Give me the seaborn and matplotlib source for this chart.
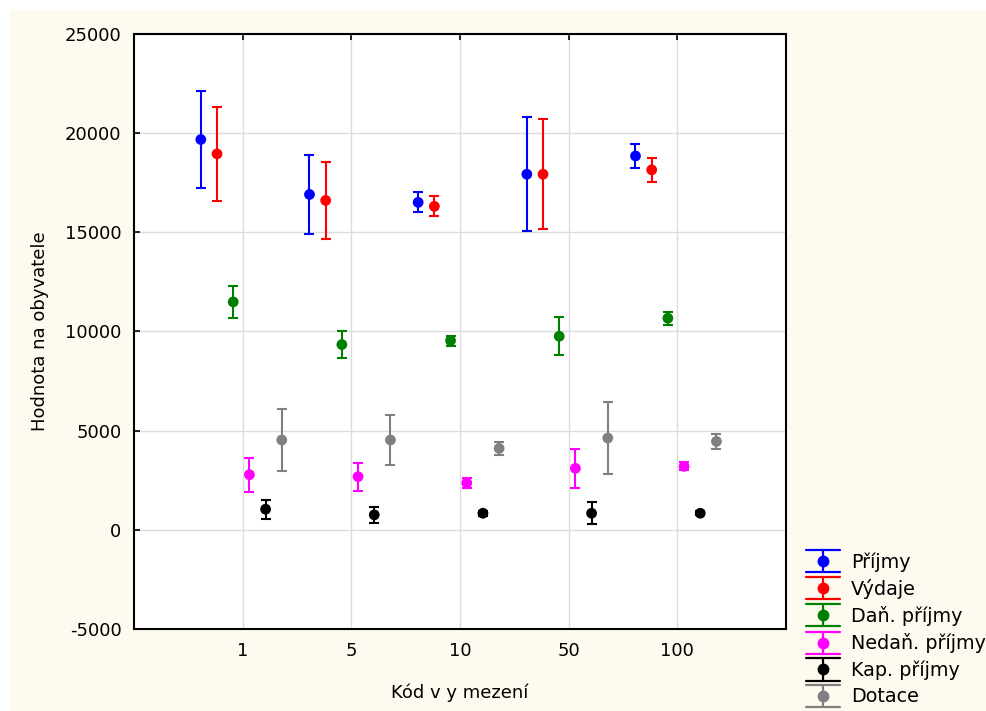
import numpy as np
import matplotlib
matplotlib.use("Agg")
import matplotlib.pyplot as plt
import seaborn as sns
import pandas as pd
from matplotlib.lines import Line2D
from matplotlib.patches import Rectangle
from matplotlib.legend_handler import HandlerBase

# data (mean and half-width of the error bar)
kody = ["1", "5", "10", "50", "100"]
serie = ["Příjmy", "Výdaje", "Daň. příjmy", "Nedaň. příjmy", "Kap. příjmy", "Dotace"]

prijmy = [19680, 16910, 16510, 17930, 18850]
prijmy_err = [2450, 2000, 510, 2860, 620]
vydaje = [18955, 16610, 16310, 17930, 18150]
vydaje_err = [2375, 1945, 505, 2760, 600]
dan_prijmy = [11490, 9340, 9540, 9760, 10670]
dan_prijmy_err = [810, 660, 250, 950, 320]
nedan_prijmy = [2780, 2680, 2365, 3100, 3200]
nedan_prijmy_err = [850, 705, 250, 980, 200]
kap_prijmy = [1040, 755, 836, 836, 836]
kap_prijmy_err = [480, 395, 120, 555, 100]
dotace = [4530, 4530, 4107, 4630, 4459]
dotace_err = [1545, 1266, 337, 1810, 396]

barvy = ["#0000ff", "#ff0000", "#008000", "#ff00ff", "#000000", "#808080"]

hodnoty = [prijmy, vydaje, dan_prijmy, nedan_prijmy, kap_prijmy, dotace]
chyby = [prijmy_err, vydaje_err, dan_prijmy_err, nedan_prijmy_err, kap_prijmy_err, dotace_err]

# posun jednotlivych serii uvnitr skupiny
posun = -0.385 + 0.149 * np.arange(len(serie))

rows = []
for i, nazev in enumerate(serie):
    for j, kod in enumerate(kody):
        rows.append({"serie": nazev, "kod": kod, "x": j + 1 + posun[i],
                     "hodnota": hodnoty[i][j], "chyba": chyby[i][j]})
df = pd.DataFrame(rows)

sns.set_style("whitegrid", {"grid.color": "#dcdcdc", "axes.edgecolor": "black"})
plt.rcParams["font.family"] = ["DejaVu Sans"]
plt.rcParams["axes.unicode_minus"] = False
plt.rcParams["text.color"] = "black"
plt.rcParams["axes.labelcolor"] = "black"
plt.rcParams["xtick.color"] = "black"
plt.rcParams["ytick.color"] = "black"


class WideCapHandler(HandlerBase):
    # legenda se sirokymi "capy" pres celou delku symbolu
    def create_artists(self, legend, orig_handle, xdescent, ydescent,
                       width, height, fontsize, trans):
        c = orig_handle.get_color()
        x0, x1 = -xdescent, -xdescent + width
        xm = (x0 + x1) / 2
        ym = -ydescent + height / 2
        h = 8
        arts = [
            Line2D([x0, x1], [ym + h, ym + h], color=c, lw=1.6),
            Line2D([x0, x1], [ym - h, ym - h], color=c, lw=1.6),
            Line2D([xm, xm], [ym - h, ym + h], color=c, lw=1.6),
            Line2D([xm], [ym], color=c, marker="o", markersize=7.5, lw=0),
        ]
        for a in arts:
            a.set_transform(trans)
        return arts


fig = plt.figure(figsize=(9.86, 7.11), dpi=100)
fig.patch.set_facecolor("white")
fig.patches.append(Rectangle((10 / 986, 0), 1, 1 - 10 / 711, transform=fig.transFigure,
                             facecolor="#fffaef", edgecolor="none", zorder=-10))
ax = fig.add_axes([134 / 986, 1 - 629 / 711, (786 - 134) / 986, (629 - 34) / 711])
ax.set_facecolor("white")

for i, nazev in enumerate(serie):
    d = df[df["serie"] == nazev]
    ax.errorbar(d["x"], d["hodnota"], yerr=d["chyba"], fmt="none", ecolor=barvy[i],
                elinewidth=1.5, capsize=3.9, capthick=1.5, zorder=3)

sns.scatterplot(data=df, x="x", y="hodnota", hue="serie", palette=barvy, s=60,
                linewidth=0, legend=False, ax=ax, zorder=4)

ax.set_xlim(0, 6)
ax.set_ylim(-5000, 25000)
ax.set_xticks(range(1, len(kody) + 1))
ax.set_xticklabels(kody)
ax.set_yticks(range(-5000, 25001, 5000))
ax.tick_params(axis="both", direction="in", length=4, width=1.2, color="black",
               labelsize=13, pad=9)
ax.tick_params(axis="x", top=True)
ax.tick_params(axis="y", left=True)
ax.grid(True, color="#dcdcdc", lw=1)
for s in ax.spines.values():
    s.set_color("black")
    s.set_linewidth(1.5)

ax.set_xlabel("Kód v y mezení", fontsize=13, labelpad=17)
ax.set_ylabel("Hodnota na obyvatele", fontsize=13, labelpad=11)

handles = [Line2D([], [], color=c, marker="o") for c in barvy]
fig.legend(handles, serie, handler_map={Line2D: WideCapHandler()},
           loc="upper left", bbox_to_anchor=(806 / 986, 1 - 552 / 711),
           bbox_transform=fig.transFigure, frameon=False, borderpad=0,
           borderaxespad=0, handlelength=1.75, handletextpad=0.6,
           labelspacing=0.38, fontsize=13.8)

fig.savefig("out.png", dpi=100)
